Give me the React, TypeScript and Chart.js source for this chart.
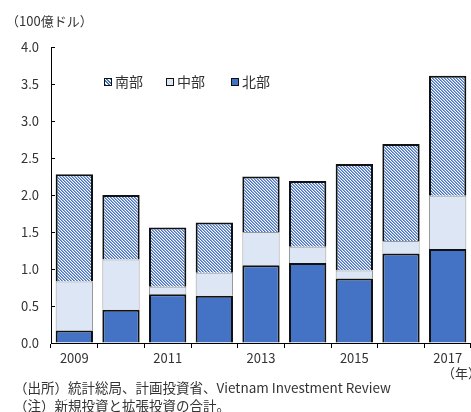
import React, { useEffect, useRef } from 'react';
import { Chart, registerables } from 'chart.js';

Chart.register(...registerables);

const years = ['2009', '2010', '2011', '2012', '2013', '2014', '2015', '2016', '2017'];
const north = [0.17, 0.45, 0.66, 0.64, 1.05, 1.08, 0.87, 1.21, 1.27];
const central = [0.66, 0.68, 0.10, 0.31, 0.45, 0.22, 0.11, 0.17, 0.72];
const south = [1.45, 0.87, 0.80, 0.68, 0.75, 0.89, 1.44, 1.31, 1.62];
const seriesNames = ['北部', '中部', '南部'];
const unitLabel = '（100億ドル）';
const yearLabel = '（年）';
const note1 = '（出所）統計総局、計画投資省、Vietnam Investment Review';
const note2 = '（注）新規投資と拡張投資の合計。';

const FONT = '"Noto Sans CJK JP", "Noto Sans", sans-serif';
const TEXT = '#333333';
const BLUE = '#4472C4';
const LIGHT = '#DCE6F4';

function makeHatch(): CanvasPattern | string {
  const n = 3;
  const c = document.createElement('canvas');
  c.width = n;
  c.height = n;
  const ctx = c.getContext('2d');
  if (!ctx) return BLUE;
  const cols = [BLUE, '#8FA9DE', '#ffffff'];
  for (let y = 0; y < n; y++) {
    for (let x = 0; x < n; x++) {
      const d = (((x - y) % n) + n) % n;
      ctx.fillStyle = cols[d];
      ctx.fillRect(x, y, 1, 1);
    }
  }
  return ctx.createPattern(c, 'repeat') || BLUE;
}

const inwardTicks = {
  id: 'inwardTicks',
  afterDraw(chart: any) {
    const y = chart.scales.y;
    const left = chart.chartArea.left;
    const ctx = chart.ctx;
    ctx.save();
    ctx.strokeStyle = '#000';
    ctx.lineWidth = 1;
    y.ticks.forEach((_t: any, i: number) => {
      const py = Math.round(y.getPixelForTick(i)) + 0.5;
      ctx.beginPath();
      ctx.moveTo(left, py);
      ctx.lineTo(left + 4, py);
      ctx.stroke();
    });
    ctx.restore();
  },
};

export default function App() {
  const ref = useRef<HTMLCanvasElement>(null);

  useEffect(() => {
    if (!ref.current) return;
    const hatch = makeHatch();
    const chart = new Chart(ref.current, {
      type: 'bar',
      data: {
        labels: years,
        datasets: [
          { label: seriesNames[0], data: north, backgroundColor: BLUE, borderColor: '#111', borderWidth: 2 },
          { label: seriesNames[1], data: central, backgroundColor: LIGHT, borderColor: '#999999', borderWidth: 1 },
          { label: seriesNames[2], data: south, backgroundColor: hatch as any, borderColor: '#111', borderWidth: 2 },
        ],
      },
      options: {
        responsive: false,
        animation: false,
        layout: { padding: { top: 47, left: 0, right: 0, bottom: 49 } },
        plugins: {
          legend: { display: false },
          tooltip: { enabled: false },
        },
        datasets: { bar: { barPercentage: 0.8, categoryPercentage: 1 } },
        scales: {
          x: {
            stacked: true,
            afterFit: (s: any) => { s.height = 20; },
            border: { display: true, color: '#000', width: 1 },
            grid: { drawOnChartArea: false, drawTicks: true, tickLength: 5, color: '#000', offset: true },
            ticks: {
              autoSkip: false,
              maxRotation: 0,
              padding: 2,
              color: TEXT,
              font: { family: FONT, size: 13 },
              callback: (_v: any, i: number) => (i % 2 === 0 ? years[i] : ''),
            },
          },
          y: {
            stacked: true,
            min: 0,
            max: 4,
            afterFit: (s: any) => { s.width = 51; },
            border: { display: true, color: '#000', width: 1 },
            grid: { drawOnChartArea: false, drawTicks: false },
            ticks: {
              stepSize: 0.5,
              padding: 12,
              color: TEXT,
              font: { family: FONT, size: 13 },
              callback: (v: any) => Number(v).toFixed(1),
            },
          },
        },
      },
      plugins: [inwardTicks],
    });
    return () => chart.destroy();
  }, []);

  const txt: React.CSSProperties = {
    position: 'absolute',
    fontFamily: FONT,
    color: TEXT,
    whiteSpace: 'nowrap',
    lineHeight: 1,
  };
  const box: React.CSSProperties = {
    display: 'inline-block',
    width: 6,
    height: 6,
    border: '1px solid #111',
    marginRight: 3,
    verticalAlign: 'middle',
    position: 'relative',
    top: -1,
  };
  const legendItems = [
    { name: seriesNames[2], left: 104, bg: `repeating-linear-gradient(45deg, ${BLUE} 0px, ${BLUE} 1.2px, #fff 1.2px, #fff 2.4px)` },
    { name: seriesNames[1], left: 166, bg: LIGHT },
    { name: seriesNames[0], left: 231, bg: BLUE },
  ];

  return (
    <div style={{ position: 'absolute', left: 0, top: 0, width: 471, height: 412, background: '#fff', overflow: 'hidden' }}>
      <canvas ref={ref} width={471} height={412} style={{ position: 'absolute', left: 0, top: 0 }} />
      <div style={{ ...txt, left: 6, top: 14, fontSize: 13 }}>{unitLabel}</div>
      {legendItems.map((it) => (
        <div key={it.name} style={{ ...txt, left: it.left, top: 74, fontSize: 14 }}>
          <span style={{ ...box, background: it.bg }} />
          {it.name}
        </div>
      ))}
      <div style={{ ...txt, left: 442, top: 366, fontSize: 13 }}>{yearLabel}</div>
      <div style={{ ...txt, left: 14, top: 381, fontSize: 13.5 }}>{note1}</div>
      <div style={{ ...txt, left: 14, top: 399, fontSize: 13.5 }}>{note2}</div>
    </div>
  );
}
